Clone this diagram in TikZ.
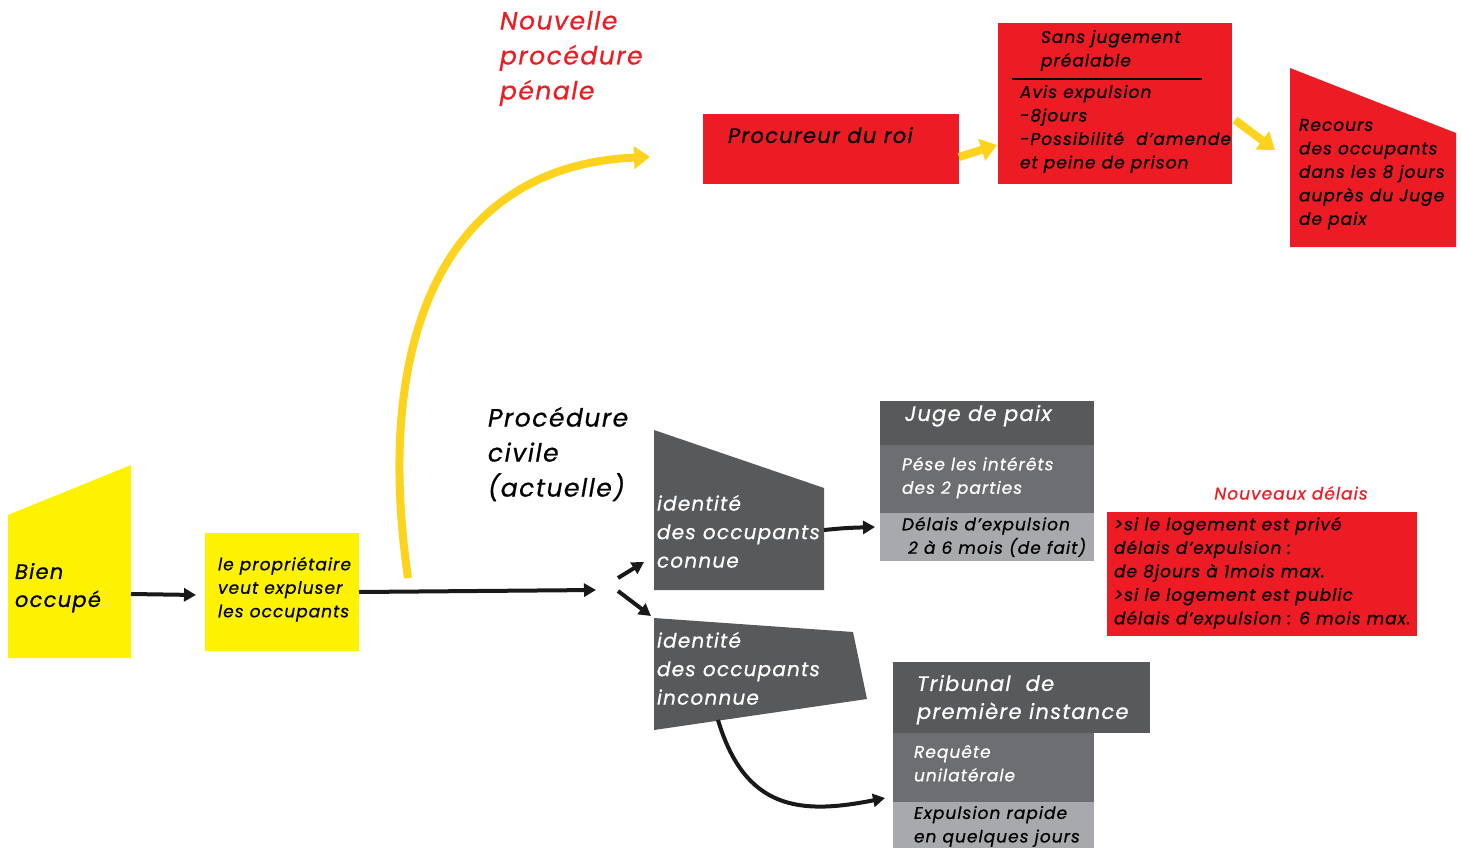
\documentclass[tikz,border=0pt]{standalone}
\usepackage{fontspec}
\setmainfont{Poppins}[LetterSpace=6,ItalicFeatures={FakeBold=0.6}]
\usetikzlibrary{arrows.meta}
\definecolor{rd}{HTML}{ED1C24}
\definecolor{yb}{HTML}{FFF200}
\definecolor{ya}{HTML}{FDD31E}
\definecolor{dg}{HTML}{58595B}
\definecolor{mg}{HTML}{6D6E71}
\definecolor{lg}{HTML}{A7A9AC}
\begin{document}
\begin{tikzpicture}[x=1pt,y=-1pt,
 box/.style={inner sep=0pt, outer sep=0pt, anchor=north west, draw=none},
 txt/.style={inner sep=0pt, outer sep=0pt, anchor=north west, align=left},
 f17/.style={font=\fontsize{17}{23.5}\selectfont\itshape},
 f20/.style={font=\fontsize{20}{28.5}\selectfont\itshape},
 f21/.style={font=\fontsize{21}{28}\selectfont\itshape},
 f25/.style={font=\fontsize{25}{35}\selectfont\itshape},
 blk/.style={line width=4pt, draw=black!90, -{Triangle[length=12pt,width=13pt]}},
 yarr/.style={draw=ya, line width=8pt, -{Triangle[length=16pt,width=22pt]}}]
\useasboundingbox (0,0) rectangle (1462,848);

% yellow shapes
\fill[yb] (8,515) -- (131,465) -- (131,658) -- (8,658) -- cycle;
\coordinate (bienE) at (131,594);
\node[txt,f21] (bien) at (15,563) {Bien\\occupé};
\node[box,fill=yb,minimum width=154,minimum height=118] (prop) at (205,533) {};
\node[txt,f17] (propt) at (218,557) {le propriétaire\\veut expluser\\les occupants};

% red titles
\node[txt,f25,text=rd] (penale) at (500,11) {Nouvelle\\procédure\\pénale};
\node[txt,f25] (civile) at (488,407) {Procédure\\civile\\(actuelle)};

% red boxes
\node[box,fill=rd,minimum width=256,minimum height=70] (proc) at (703,114) {};
\node[txt,f21] (proct) at (728,127) {Procureur du roi};
\node[box,fill=rd,minimum width=234,minimum height=161] (sans) at (998,23) {};
\draw[line width=2.5pt] (1012,79) -- (1202,79);
\node[txt,f17] (sanst) at (1041,30) {Sans jugement\\préalable};
\node[txt,f17] (avis) at (1020,85) {Avis expulsion\\-8jours\\-Possibilité\ \ d’amende\\et peine de prison};
\fill[rd] (1290,68) -- (1456,133) -- (1456,247) -- (1290,247) -- cycle;
\coordinate (recW) at (1275,150);
\node[txt,f17] (rec) at (1299,119) {Recours\\des occupants\\dans les 8 jours\\auprès du Juge\\de paix};

% dark polygons
\fill[dg] (654,430) -- (824,488) -- (824,590) -- (654,590) -- cycle;
\node[txt,f20,text=white] (connue) at (657,495) {identité\\des occupants\\connue};
\fill[dg] (654,618) -- (853,632) -- (867,699) -- (654,730) -- cycle;
\node[txt,f20,text=white] (inconnue) at (657,632) {identité\\des occupants\\inconnue};
\coordinate (connueE) at (824,530);
\coordinate (inconS) at (718,720);
\coordinate (split) at (596,590);
\coordinate (connueIn) at (644,562);
\coordinate (inconIn) at (651,616);

% Juge de paix
\node[box,fill=dg,minimum width=214,minimum height=44] (juge) at (880,401) {};
\node[box,fill=mg,minimum width=214,minimum height=68] (pese) at (880,445) {};
\node[box,fill=lg,minimum width=214,minimum height=48] (delai) at (880,513) {};
\node[txt,f21,text=white] (jugt) at (905,405) {Juge de paix};
\node[txt,f17,text=white] (peset) at (902,457) {Pése les intérêts\\des 2 parties};
\node[txt,f17] (delait) at (902,517) {Délais d’expulsion\\\ 2 à 6 mois (de fait)};

% Nouveaux delais
\node[inner sep=0pt,f17,text=rd] (nouv) at (1291,493) {Nouveaux délais};
\node[box,fill=rd,minimum width=310,minimum height=124] (nd) at (1107,512) {};
\node[txt,f17] (ndt) at (1114,517) {>si le logement est privé\\délais d’expulsion :\\de 8jours à 1mois max.\\>si le logement est public\\délais d’expulsion : 6 mois max.};

% Tribunal
\node[box,fill=dg,minimum width=257,minimum height=71] (trib) at (893,662) {};
\node[box,fill=mg,minimum width=201,minimum height=69] (req) at (893,733) {};
\node[box,fill=lg,minimum width=201,minimum height=46] (exp) at (893,802) {};
\node[txt,f21,text=white] (tribt) at (917,675) {Tribunal\ \ de\\première instance};
\node[txt,f17,text=white] (reqt) at (914,745) {Requête\\unilatérale};
\node[txt,f17] (expt) at (914,806) {Expulsion rapide\\en quelques jours};

% connectors
\draw[blk] (bienE) -- ([xshift=-9pt,yshift=-3pt]prop.west);
\draw[blk] (prop.east) -- (split);
\draw[blk] (618,578) -- (connueIn);
\draw[blk] (618,591) -- (inconIn);
\draw[blk] (connueE) .. controls (845,528) .. ([xshift=-5pt,yshift=10pt]delai.west);
\draw[blk] (inconS) .. controls (745,810) and (800,815) .. ([xshift=-8pt,yshift=27pt]exp.west);
\draw[yarr] (408,578) .. controls (372,330) and (450,165) .. (650,157);
\draw[yarr] ([yshift=27pt]proc.south east) -- ([xshift=-1pt,yshift=39pt]sans.south west);
\draw[yarr] (1235,120) -- (recW);
\end{tikzpicture}
\end{document}
